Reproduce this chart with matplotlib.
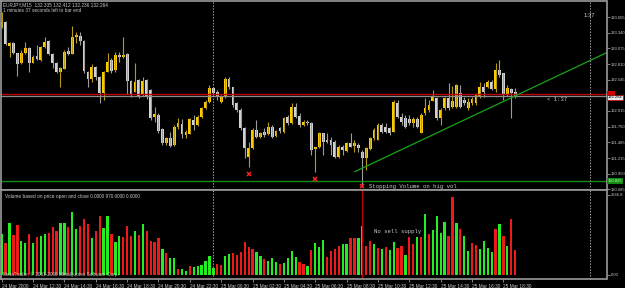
# EURJPY M15 chart with volume window, MetaTrader style
import numpy as np
import matplotlib
matplotlib.use("Agg")
import matplotlib.pyplot as plt

plt.rcParams['font.family'] = ['Liberation Sans', 'DejaVu Sans']

# candle data (open, high, low, close), one entry per M15 bar from 24 Mar 10:30
opens = [133.440, 133.530, 133.122, 133.173, 132.993, 132.823, 132.993, 133.078, 132.833, 132.952,
         132.879, 133.105, 133.202, 132.981, 132.833, 132.670, 132.726, 133.032, 132.981, 133.275,
         133.287, 133.207, 132.681, 132.551, 132.765, 132.596, 132.324, 132.681, 132.879, 132.709,
         132.964, 132.925, 132.981, 132.523, 132.341, 132.540, 132.285, 132.540, 132.370, 131.916,
         131.945, 131.703, 131.475, 131.560, 131.436, 131.736, 131.793, 131.606, 131.623, 131.860,
         131.776, 131.906, 132.059, 132.171, 132.399, 132.341, 132.171, 132.246, 132.557, 132.416,
         132.144, 132.030, 131.720, 131.237, 131.380, 131.691, 131.577, 131.662, 131.623, 131.736,
         131.589, 131.720, 131.662, 131.906, 131.804, 132.086, 131.928, 131.776, 131.832, 131.804,
         131.363, 131.397, 131.635, 131.521, 131.521, 131.492, 131.237, 131.407, 131.339, 131.475,
         131.419, 131.436, 131.322, 131.210, 131.363, 131.550, 131.521, 131.776, 131.736, 131.720,
         131.662, 132.144, 131.916, 131.889, 131.872, 131.804, 131.872, 131.645, 131.974, 132.030,
         132.188, 132.229, 131.889, 132.059, 132.229, 132.086, 132.086, 132.324, 132.200, 132.059,
         132.144, 132.144, 132.256, 132.421, 132.426, 132.511, 132.382, 132.709, 132.653, 132.285,
         132.382, 132.335]
highs = [133.694, 133.541, 133.190, 133.190, 132.998, 133.049, 133.190, 133.100, 132.964, 133.134,
         133.117, 133.265, 133.219, 132.998, 132.850, 132.765, 133.049, 133.105, 133.457, 133.360,
         133.360, 133.219, 132.698, 132.811, 132.777, 132.608, 132.692, 132.993, 132.908, 133.020,
         133.020, 133.275, 132.998, 132.540, 132.833, 132.557, 132.585, 132.557, 132.387, 132.086,
         131.974, 131.720, 131.577, 131.662, 131.776, 131.889, 131.872, 131.691, 131.889, 131.945,
         131.945, 132.086, 132.200, 132.455, 132.426, 132.370, 132.285, 132.585, 132.585, 132.426,
         132.166, 132.059, 131.742, 131.492, 131.720, 131.860, 131.662, 131.720, 131.832, 131.776,
         131.691, 131.747, 131.906, 131.945, 132.144, 132.144, 131.974, 131.860, 131.860, 131.826,
         131.407, 131.662, 131.645, 131.635, 131.577, 131.521, 131.436, 131.436, 131.492, 131.635,
         131.521, 131.465, 131.351, 131.407, 131.577, 131.720, 131.804, 131.815, 131.804, 131.747,
         132.200, 132.200, 131.974, 131.945, 131.945, 131.916, 131.911, 131.979, 132.234, 132.200,
         132.370, 132.256, 132.059, 132.256, 132.484, 132.438, 132.472, 132.455, 132.256, 132.229,
         132.251, 132.314, 132.511, 132.484, 132.540, 132.540, 132.823, 132.879, 132.653, 132.455,
         132.399, 132.412]
lows = [133.423, 133.134, 132.935, 132.981, 132.608, 132.811, 132.981, 132.681, 132.823, 132.879,
        132.862, 133.078, 132.964, 132.738, 132.664, 132.416, 132.720, 132.964, 132.975, 133.163,
        133.134, 132.664, 132.426, 132.511, 132.540, 132.144, 132.200, 132.676, 132.653, 132.681,
        132.850, 132.908, 132.302, 132.251, 132.336, 132.234, 132.268, 132.212, 131.860, 131.832,
        131.635, 131.436, 131.436, 131.407, 131.419, 131.703, 131.550, 131.550, 131.618, 131.691,
        131.759, 131.894, 132.047, 132.154, 132.285, 132.200, 132.149, 132.234, 132.382, 132.086,
        132.001, 131.691, 131.210, 131.067, 131.368, 131.550, 131.550, 131.577, 131.606, 131.550,
        131.577, 131.635, 131.645, 131.776, 131.793, 131.889, 131.747, 131.759, 131.776, 131.266,
        130.983, 131.380, 131.266, 131.465, 131.266, 131.210, 131.210, 131.266, 131.322, 131.400,
        131.322, 131.322, 130.728, 131.012, 131.351, 131.521, 131.515, 131.635, 131.635, 131.606,
        131.657, 131.889, 131.776, 131.720, 131.776, 131.747, 131.725, 131.640, 131.945, 132.001,
        132.183, 131.860, 131.776, 132.030, 132.030, 132.064, 132.064, 132.059, 132.115, 132.030,
        132.115, 132.115, 132.229, 132.256, 132.399, 132.370, 132.341, 132.596, 132.200, 132.268,
        131.889, 132.236]
closes = [133.524, 133.151, 133.163, 132.993, 132.811, 133.003, 133.078, 132.823, 132.935, 132.891,
          133.105, 133.190, 132.976, 132.823, 132.681, 132.738, 133.020, 132.981, 133.275, 133.304,
          133.207, 132.692, 132.551, 132.765, 132.585, 132.314, 132.681, 132.850, 132.698, 132.964,
          132.925, 132.964, 132.523, 132.285, 132.511, 132.246, 132.528, 132.256, 131.889, 131.957,
          131.679, 131.475, 131.560, 131.424, 131.747, 131.804, 131.623, 131.662, 131.872, 131.776,
          131.916, 132.059, 132.171, 132.399, 132.324, 132.256, 132.256, 132.557, 132.416, 132.115,
          132.030, 131.720, 131.380, 131.380, 131.691, 131.577, 131.635, 131.606, 131.747, 131.577,
          131.679, 131.679, 131.889, 131.804, 132.086, 131.916, 131.776, 131.832, 131.804, 131.351,
          131.397, 131.635, 131.492, 131.492, 131.436, 131.237, 131.397, 131.351, 131.465, 131.407,
          131.465, 131.380, 131.210, 131.380, 131.550, 131.691, 131.776, 131.662, 131.662, 131.635,
          132.171, 131.916, 131.832, 131.747, 131.804, 131.872, 131.747, 131.945, 132.059, 132.115,
          132.268, 131.889, 132.030, 132.229, 132.059, 132.183, 132.455, 132.086, 132.144, 132.171,
          132.212, 132.285, 132.426, 132.336, 132.511, 132.382, 132.709, 132.625, 132.285, 132.399,
          132.314, 132.264]

# volume window: height and colour (g = green, r = red)
volumes = [1312, 1036, 1678, 1274, 1595, 1091, 1036, 1316, 1017, 1229,
           1252, 1306, 1348, 1541, 1412, 1679, 1679, 1541, 2012, 1486,
           1573, 1798, 1637, 1177, 1412, 1884, 1519, 1894, 1306, 1049,
           1241, 1230, 1584, 1252, 1412, 1284, 1626, 1412, 1091, 1070,
           1177, 834, 717, 556, 556, 182, 193, 128, 289, 267,
           278, 320, 450, 600, 235, 353, 310, 599, 663, 706,
           652, 748, 1059, 899, 834, 727, 620, 503, 460, 535,
           417, 364, 374, 545, 760, 567, 406, 353, 278, 802,
           1027, 899, 1112, 578, 770, 845, 920, 1006, 984, 1188,
           1188, 1177, 1573, 920, 1091, 984, 867, 834, 899, 791,
           1049, 867, 931, 652, 1220, 984, 1230, 1220, 1968, 1306,
           1455, 1883, 1348, 1701, 1263, 2514, 1669, 1477, 1241, 760,
           1017, 952, 845, 1091, 867, 749, 1477, 1626, 1252, 920,
           1798, 802]
vol_colors = list("grgrrggrgr" "ggrrrggrgg" "rrrgrrggrg" "grrrgrgrrr"
                  "rgrggrggrg" "gggggrrggr" "rrrrrggrgg" "grggggrrgr"
                  "gggrrrrggr" "rggrrgrgrg" "grrgrrgrgr" "ggggrrgrgg"
                  "rrggggrgrg" "rrr" "gr" "r")

# time axis labels, one every 8 bars
tick_bars = list(range(0, 129, 8))
tick_names = ['24 Mar 2009', '24 Mar 12:30', '24 Mar 14:30', '24 Mar 16:30', '24 Mar 18:30',
              '24 Mar 20:30', '24 Mar 22:30', '25 Mar 00:30', '25 Mar 02:30', '25 Mar 04:30',
              '25 Mar 06:30', '25 Mar 08:30', '25 Mar 10:30', '25 Mar 12:30', '25 Mar 14:30',
              '25 Mar 16:30', '25 Mar 18:30']
price_ticks = [133.605, 133.340, 133.075, 132.810, 132.545, 132.015,
               131.750, 131.485, 131.215, 130.950, 130.685]

# chart objects
day_sep = 54            # 25 Mar 00:00
timer_bar = 150         # "1:37" vertical line
marks_x = [63, 80, 92]  # red crosses under the lows
marks_p = [130.944, 130.859, 130.740]
trend_x = [90.1, 154.3]
trend_p = [130.983, 133.003]
red_level = 132.297
bid_level = 132.264
green_level = 130.825

TXT = '#c8c8c8'
GRID = '#9a9a9a'
FS = 3.4
AXFS = 3.0


def style_axes(ax):
    """black panel, grey frame, labels on the right"""
    ax.set_facecolor('black')
    for sp in ax.spines.values():
        sp.set_color(GRID)
        sp.set_linewidth(1.2)
    ax.yaxis.tick_right()
    ax.tick_params(axis='y', colors=GRID, labelcolor=TXT, labelsize=AXFS,
                   length=2, width=0.6, pad=0.8)
    ax.set_xlim(-0.18, 154.3)


fig = plt.figure(figsize=(6.25, 2.88), dpi=100, facecolor='black')
ax = fig.add_axes([0.0016, 0.342, 0.9688, 0.6528])
vax = fig.add_axes([0.0016, 0.0313, 0.9688, 0.3075])
style_axes(ax)
style_axes(vax)

# candles
x = np.arange(len(opens))
o = np.array(opens)
h = np.array(highs)
l = np.array(lows)
c = np.array(closes)
up = c >= o
ax.vlines(x[up], l[up], h[up], color='#b89a10', linewidth=0.8)
ax.vlines(x[~up], l[~up], h[~up], color='#9c9c9c', linewidth=0.8)
body = np.maximum(np.abs(c - o), 0.012)
ax.bar(x[up], body[up], bottom=np.minimum(o, c)[up], width=0.72,
       color='#ffcc00', linewidth=0)
ax.bar(x[~up], body[~up], bottom=np.minimum(o, c)[~up], width=0.72,
       color='#d4d4d4', linewidth=0)

# horizontal levels, trend line, separators
ax.axhline(red_level, color='#c00000', linewidth=1.0)
ax.axhline(bid_level, color='#8c8c8c', linewidth=0.9)
ax.axhline(green_level, color='#138a13', linewidth=1.0)
ax.plot(trend_x, trend_p, color='#16a516', linewidth=0.9)
for a in (ax, vax):
    a.axvline(day_sep, color='#a0a0a0', linewidth=0.7, linestyle=(0, (1.5, 1.5)))
    a.axvline(timer_bar, color='#a0a0a0', linewidth=0.7, linestyle=(0, (1.5, 1.5)))
ax.plot(marks_x, marks_p, linestyle='none', marker='x', color='#ff2020',
        markersize=3.2, markeredgewidth=1.1)

ax.set_ylim(130.680, 133.873)
ax.set_yticks(price_ticks)
ax.set_yticklabels(['%.3f' % v for v in price_ticks])
ax.set_xticks([])

# price boxes on the right scale
ax.text(1.002, red_level + 0.01, '      ', transform=ax.get_yaxis_transform(), fontsize=AXFS,
        va='center', ha='left', color='white', clip_on=False,
        bbox=dict(boxstyle='square,pad=0.15', fc='#d00000', ec='none'))
ax.text(1.002, bid_level - 0.02, '132.264', transform=ax.get_yaxis_transform(), fontsize=AXFS,
        va='center', ha='left', color='black', clip_on=False,
        bbox=dict(boxstyle='square,pad=0.15', fc='#e8e8e8', ec='#d00000', lw=0.5))
ax.text(1.002, green_level, '130.825', transform=ax.get_yaxis_transform(), fontsize=AXFS,
        va='center', ha='left', color='#b0ffb0', clip_on=False,
        bbox=dict(boxstyle='square,pad=0.15', fc='#138a13', ec='none'))

# chart texts
ax.text(150, 133.643, '1:37', fontsize=FS + 0.8, color=TXT, ha='center', va='center')
ax.text(139.1, 132.209, '< 1:37', fontsize=4.1, color=TXT, ha='left', va='center',
        family='Liberation Mono')
ax.text(93.7, 130.733, 'Stopping Volume on hig vol', fontsize=4.1, color=TXT,
        ha='left', va='center', family='Liberation Mono', clip_on=False)
fig.text(3 / 625, 1 - 5 / 288, 'EURJPY,M15  132.335 132.412 132.236 132.264',
         fontsize=FS, color=TXT, va='center', ha='left')
fig.text(3 / 625, 1 - 10.5 / 288, '1 minutes 37 seconds left to bar end',
         fontsize=FS, color=TXT, va='center', ha='left')

# volume histogram
vcol = ['#22ee22' if k == 'g' else '#ee1a1a' for k in vol_colors]
vax.bar(x, volumes, width=0.58, color=vcol, linewidth=0)
vax.axvline(marks_x[2], color='#c00000', linewidth=0.9)
vax.set_ylim(-128, 2712)
vax.set_yticks([0, 2566.8])
vax.set_yticklabels(['0.00', '2566.8'])
vax.set_xticks(tick_bars)
vax.set_xticklabels(tick_names)
vax.tick_params(axis='x', colors=GRID, labelcolor=TXT, labelsize=FS,
                length=2, width=0.6, pad=1.5)
for lab in vax.get_xticklabels():
    lab.set_ha('left')
vax.text(95.0, 1390, 'No sell supply', fontsize=4.1, color=TXT, ha='left',
         va='center', family='Liberation Mono')
vax.text(0.006, 0.93, 'Volume based on price open and close 0.0000 970.0000 0.0000',
         transform=vax.transAxes, fontsize=FS, color=TXT, ha='left', va='center')
vax.text(0.004, 0.05, 'MetaTrader, \u00a9 2001-2008 MetaQuotes Software Corp.',
         transform=vax.transAxes, fontsize=FS, color=TXT, ha='left', va='center')

fig.savefig('out.png', dpi=100, facecolor='black')
